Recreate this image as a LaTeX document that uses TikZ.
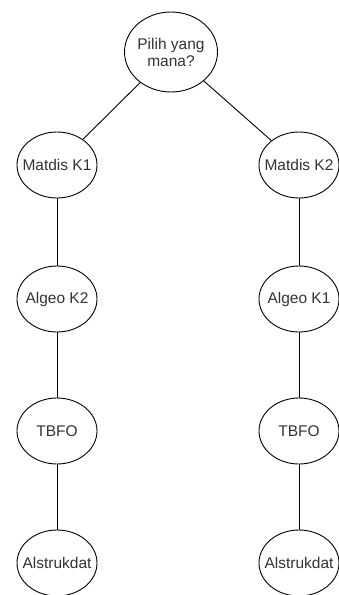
\documentclass[tikz,border=0pt]{standalone}
\usepackage{fontspec}
\setmainfont{Liberation Sans}
\usepackage{xcolor}
\usetikzlibrary{shapes.geometric}
\definecolor{inkgray}{HTML}{333333}
\tikzset{
    course/.style={draw, ellipse, line width=0.9pt, inner sep=0pt,
        minimum width=80pt, minimum height=66pt,
        text=inkgray, font=\fontsize{15.5}{18}\selectfont},
    choice/.style={course, minimum width=93pt, minimum height=80pt},
    link/.style={line width=0.9pt}
}
\begin{document}
\begin{tikzpicture}[x=1pt,y=-1pt]
        \useasboundingbox (0,0) rectangle (339,595);
        % Draw the question at the top
        \node[choice] (tanya) at (171,52) {\makebox[0pt]{\shortstack{Pilih yang\\mana?}}};
        % Draw the left path
        \node[course] (matdisA) at (57,165) {\makebox[0pt]{Matdis K1}};
        \node[course] (algeoA) at (57,299) {\makebox[0pt]{Algeo K2}};
        \node[course] (tbfoA) at (57,431) {\makebox[0pt]{TBFO}};
        \node[course] (alstrukA) at (57,563) {\makebox[0pt]{Alstrukdat}};
        % Draw the right path
        \node[course] (matdisB) at (299,165) {\makebox[0pt]{Matdis K2}};
        \node[course] (algeoB) at (299,299) {\makebox[0pt]{Algeo K1}};
        \node[course] (tbfoB) at (299,431) {\makebox[0pt]{TBFO}};
        \node[course] (alstrukB) at (299,563) {\makebox[0pt]{Alstrukdat}};
        % Draw the links
        \draw[link] (tanya) -- (matdisA);
        \draw[link] (tanya) -- (matdisB);
        \draw[link] (matdisA) -- (algeoA) -- (tbfoA) -- (alstrukA);
        \draw[link] (matdisB) -- (algeoB) -- (tbfoB) -- (alstrukB);
    \end{tikzpicture}
\end{document}
